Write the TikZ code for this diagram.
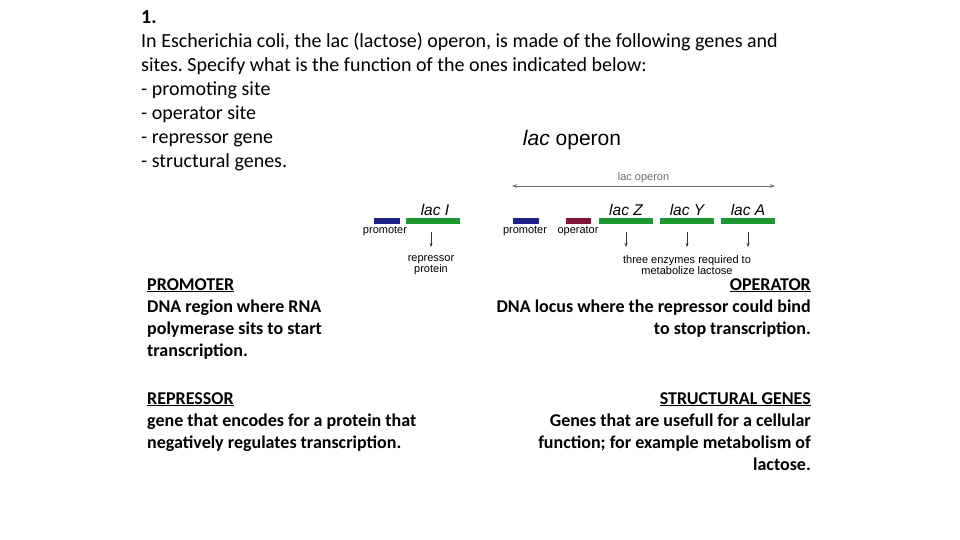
\documentclass[tikz,border=0pt]{standalone}
\usepackage{fontspec}
\setmainfont{Carlito}
\newfontfamily\arialf{Liberation Sans}
\usepackage{tikz}
\usetikzlibrary{arrows.meta,calc}
\definecolor{promc}{RGB}{28,34,140}
\definecolor{operc}{RGB}{130,18,56}
\definecolor{genec}{RGB}{30,150,50}
\definecolor{spanc}{RGB}{110,110,110}
\tikzset{
  bar/.style   = {inner sep=0pt, minimum height=6pt},
  prom/.style  = {bar, fill=promc, minimum width=26pt},
  oper/.style  = {bar, fill=operc, minimum width=25pt},
  gene/.style  = {bar, fill=genec, minimum width=54pt},
  glab/.style  = {font=\arialf\fontsize{15.5}{17}\selectfont\itshape, inner sep=0pt},
  slab/.style  = {font=\arialf\fontsize{11}{11.5}\selectfont, inner sep=0pt, align=center},
  down/.style  = {-{Stealth[length=4pt,width=3pt]}, line width=0.8pt, black!80},
  span/.style  = {{Stealth[length=5pt,width=3.5pt]}-{Stealth[length=5pt,width=3.5pt]}, line width=0.9pt, spanc},
  qtext/.style = {font=\fontsize{20}{24}\selectfont, inner sep=0pt, align=left},
  ans/.style   = {font=\bfseries\fontsize{18}{22.3}\selectfont, inner sep=0pt},
}

\begin{document}
\frenchspacing
\begin{tikzpicture}[x=1pt, y=-1pt]
\useasboundingbox[fill=white] (0,0) rectangle (960,540);

% ---- question ----
\node[qtext, anchor=north west] (quest) at (141,10) {\textbf{1.}\\
  In Escherichia coli, the lac (lactose) operon, is made of the following genes and\\
  sites. Specify what is the function of the ones indicated below:\\
  - promoting site\\
  - operator site\\
  - repressor gene\\
  - structural genes.};

% ---- lac operon figure ----
\node[font=\arialf\fontsize{21}{23}\selectfont, inner sep=0pt] (title) at (572,140)
      {\textit{lac} operon};

% repressor gene
\node[prom] (pro1) at (387,221) {};
\node[gene] (lacI) at (433,221) {};
\node[glab] at (435,210) {lac I};
\node[slab] (plab1) at (385,231) {promoter};
\node[slab, anchor=north] (rep) at (431,255) {repressor\\protein};
\draw[down] ([yshift=-8pt]lacI.south -| rep.north) -- ([yshift=8pt]rep.north);

% operon
\node[prom] (pro2) at (526,221) {};
\node[oper] (op) at (578.5,221) {};
\node[gene] (lacZ) at (626,221) {};
\node[gene] (lacY) at (687,221) {};
\node[gene] (lacA) at (748,221) {};
\node[glab] at (626,210) {lac Z};
\node[glab] at (687,210) {lac Y};
\node[glab] at (748,210) {lac A};
\node[slab] (plab2) at (525,231) {promoter};
\node[slab] (olab) at (578,231) {operator};
\node[slab, anchor=north] (enz) at (687,255) {three enzymes required to\\metabolize lactose};
\foreach \g in {lacZ,lacY,lacA}
  \draw[down] ([yshift=-8pt]\g.south) -- ([yshift=8pt]\g.south |- enz.north);

\coordinate (opL) at (512,186);
\coordinate (opR) at (775,186);
\draw[span] (opL) -- node[slab, above=3pt] (oplab) {lac operon} (opR);

% ---- answers ----
\node[ans, align=left, anchor=north west] (prm) at (147,278)
      {\underline{PROMOTER}\\DNA region where RNA\\polymerase sits to start\\transcription.};
\node[ans, align=right, anchor=north east] (opr) at (811,278)
      {\underline{OPERATOR}\\DNA locus where the repressor could bind\\to stop transcription.};
\node[ans, align=left, anchor=north west] (rpr) at (147,392)
      {\underline{REPRESSOR}\\gene that encodes for a protein that\\negatively regulates transcription.};
\node[ans, align=right, anchor=north east] (str) at (811,392)
      {\underline{STRUCTURAL GENES}\\Genes that are usefull for a cellular\\function; for example metabolism of\\lactose.};

\end{tikzpicture}
\end{document}
